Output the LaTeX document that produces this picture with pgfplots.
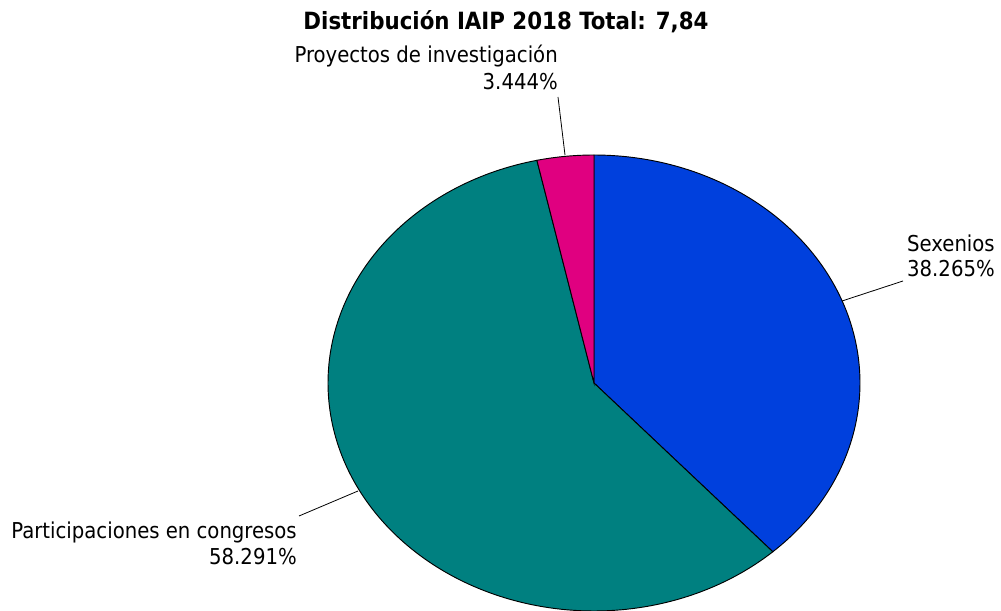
\documentclass[border=0pt]{standalone}
\usepackage{pgfplots}
\pgfplotsset{compat=1.18}
\usepackage{pgfplotstable}
\usepackage{fontspec}
\setmainfont{DejaVu Sans Condensed}
\definecolor{sexblue}{RGB}{0,64,221}
\definecolor{parteal}{RGB}{0,128,128}
\definecolor{promag}{RGB}{224,0,128}
\tikzset{lbl/.style={font=\fontsize{16.4}{19}\selectfont, inner sep=0pt}}
\pgfplotstableread{
name value
Sexenios 38.265
Participaciones 58.291
Proyectos 3.444
}\piedata
\begin{document}
\begin{tikzpicture}
\pgfplotstablegetelem{0}{value}\of\piedata \let\va\pgfplotsretval
\pgfplotstablegetelem{1}{value}\of\piedata \let\vb\pgfplotsretval
\pgfplotstablegetelem{2}{value}\of\piedata \let\vc\pgfplotsretval
\pgfmathsetmacro\aA{90-3.6*\va}
\pgfmathsetmacro\aB{\aA-3.6*\vb}
\pgfmathsetmacro\aC{\aB-3.6*\vc}
\begin{axis}[
  scale only axis, width=750.75pt, height=458.25pt,
  xmin=0, xmax=1001, ymin=0, ymax=611,
  hide axis, clip=false,
]
\path[use as bounding box] (axis cs:0,0) rectangle (axis cs:1001,611);
\addplot[fill=sexblue, draw=black, line width=0.7pt, domain=\aA:90, samples=120, variable=\t]
  ({594+266*cos(\t)},{228+228*sin(\t)}) -- (axis cs:594,228) -- cycle;
\addplot[fill=parteal, draw=black, line width=0.7pt, domain=\aB:\aA, samples=180, variable=\t]
  ({594+266*cos(\t)},{228+228*sin(\t)}) -- (axis cs:594,228) -- cycle;
\addplot[fill=promag, draw=black, line width=0.7pt, domain=\aC:\aB, samples=30, variable=\t]
  ({594+266*cos(\t)},{228+228*sin(\t)}) -- (axis cs:594,228) -- cycle;
% leader lines
\addplot[black, line width=0.6pt] coordinates {(842,310) (903,330)};
\addplot[black, line width=0.6pt] coordinates {(358,120) (299,95)};
\addplot[black, line width=0.6pt] coordinates {(565,456) (558,514)};
% labels
\node[lbl, anchor=base east] at (axis cs:995,359) {Sexenios};
\node[lbl, anchor=base east] at (axis cs:995,334) {38.265\%};
\node[lbl, anchor=base east] at (axis cs:297,72) {Participaciones en congresos};
\node[lbl, anchor=base east] at (axis cs:297,46) {58.291\%};
\node[lbl, anchor=base east] at (axis cs:558,548) {Proyectos de investigación};
\node[lbl, anchor=base east] at (axis cs:558,521) {3.444\%};
\node[inner sep=0pt, anchor=base, font=\bfseries\fontsize{17.8}{21}\selectfont] at (axis cs:506,581) {Distribución IAIP 2018 Total: 7,84};
\end{axis}
\end{tikzpicture}
\end{document}
